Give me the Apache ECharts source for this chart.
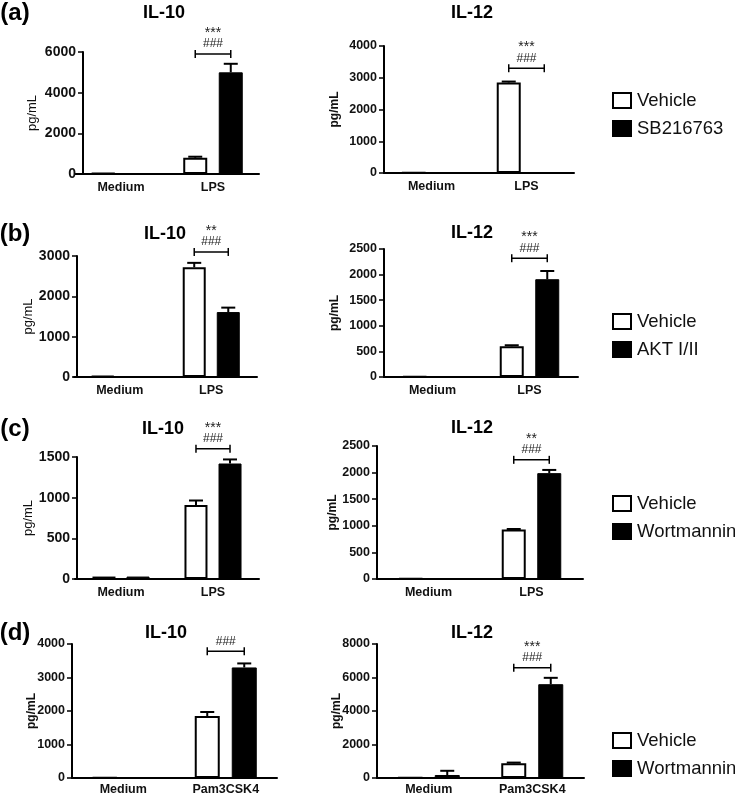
<!DOCTYPE html>
<html><head><meta charset="utf-8">
<script src="https://cdn.jsdelivr.net/npm/echarts@6/dist/echarts.min.js"></script>
<style>html,body{margin:0;padding:0;background:#fff}#c{width:735px;height:796px}</style>
</head><body><div id="c"></div>
<script>
// ---------------- data ----------------
const rowLabels = ['(a)', '(b)', '(c)', '(d)'];
const panelTitles = ['IL-10', 'IL-12', 'IL-10', 'IL-12', 'IL-10', 'IL-12', 'IL-10', 'IL-12'];
const catsLPS = ['Medium', 'LPS'];
const catsPam = ['Medium', 'Pam3CSK4'];
const panelCats = [catsLPS, catsLPS, catsLPS, catsLPS, catsLPS, catsLPS, catsPam, catsPam];
const vehicleName = 'Vehicle';
const drugNames = ['SB216763', 'AKT I/II', 'Wortmannin', 'Wortmannin'];
const yAxisName = 'pg/mL';
const yMax  = [6000, 4000, 3000, 2500, 1500, 2500, 4000, 8000];
const yStep = [2000, 1000, 1000, 500, 500, 500, 1000, 2000];
const vehicleMean = [[40, 800], [10, 2850], [20, 2720], [10, 600], [30, 910], [10, 930], [20, 1850], [30, 880]];
const vehicleSem  = [[0, 50], [0, 30], [0, 110], [0, 20], [0, 55], [0, 10], [0, 120], [0, 40]];
const drugMean = [[40, 5000], [10, 10], [20, 1610], [10, 1910], [30, 1420], [10, 1990], [20, 3300], [180, 5600]];
const drugSem  = [[0, 420], [0, 0], [0, 110], [0, 160], [0, 50], [0, 60], [0, 120], [250, 380]];
const bracketLevel = [5900, 3300, 3100, 2320, 1600, 2240, 3780, 6580];
const starMarks = ['***', '***', '**', '***', '***', '**', '', '***'];
const hashMarks = ['###', '###', '###', '###', '###', '###', '###', '###'];

// ---------------- layout ----------------
const FONT = '"Liberation Sans", Arial, Helvetica, sans-serif';
const grids = [
  {left: 75, top: 52, width: 184, height: 122, off: -8, nameGap: 44, bold: false, bw: 24, tick: 14},
  {left: 384, top: 46, width: 190, height: 127, off: 0, nameGap: 43, bold: true, bw: 24, tick: 12.5},
  {left: 74, top: 256, width: 183, height: 121, off: -3, nameGap: 42, bold: false, bw: 23, tick: 14},
  {left: 384, top: 249, width: 194, height: 128, off: 0, nameGap: 43, bold: true, bw: 24, tick: 12.5},
  {left: 75, top: 457, width: 184, height: 122, off: -2, nameGap: 42, bold: false, bw: 23, tick: 14},
  {left: 377, top: 446, width: 206, height: 133, off: 0, nameGap: 38, bold: true, bw: 24, tick: 12.5},
  {left: 72, top: 644, width: 205, height: 135, off: 0, nameGap: 34, bold: true, bw: 25, tick: 12.5},
  {left: 377, top: 644, width: 207, height: 135, off: 0, nameGap: 34, bold: true, bw: 25, tick: 12.5}
];
const GAP = 0.48;
const titlePos = [[164, 13], [472, 13], [165, 234], [472, 233], [163, 429], [472, 428], [166, 633], [472, 633]];
const rowLabelPos = [[15, 13], [15, 234], [15, 429], [15, 633]];
const legendTop = [86, 307, 489, 726];
const catMargin = [7, 7, 7, 7, 7, 7, 5, 5];

function makeErr(bw) {
  const off = bw * (1 + GAP) / 2;
  return function (params, api) {
    const c = api.value(0), v = api.value(1), e = api.value(2), side = api.value(3);
    if (!e) return;
    const base = api.coord([c, v]);
    const top = api.coord([c, v + e]);
    const x = base[0] + (side ? off : -off);
    const cap = 14;
    return {
      type: 'group',
      children: [
        {type: 'line', shape: {x1: x, y1: base[1], x2: x, y2: top[1]}, style: {stroke: '#000', lineWidth: 2}},
        {type: 'line', shape: {x1: x - cap / 2, y1: top[1], x2: x + cap / 2, y2: top[1]}, style: {stroke: '#000', lineWidth: 2}}
      ]
    };
  };
}
function makeBracket(bw, i) {
  const off = bw * (1 + GAP) / 2;
  return function (params, api) {
    const p = api.coord([api.value(0), api.value(1)]);
    const x1 = p[0] - off, x2 = p[0] + off, y = p[1];
    const ch = [
      {type: 'line', shape: {x1: x1, y1: y, x2: x2, y2: y}, style: {stroke: '#000', lineWidth: 1.5}},
      {type: 'line', shape: {x1: x1, y1: y - 4, x2: x1, y2: y + 4}, style: {stroke: '#000', lineWidth: 1.5}},
      {type: 'line', shape: {x1: x2, y1: y - 4, x2: x2, y2: y + 4}, style: {stroke: '#000', lineWidth: 1.5}},
      {type: 'text', style: {text: hashMarks[i], x: p[0], y: y - 10, align: 'center', verticalAlign: 'middle', font: '12px ' + FONT, fill: '#222'}}
    ];
    if (starMarks[i]) ch.push({type: 'text', style: {text: starMarks[i], x: p[0], y: y - 21, align: 'center', verticalAlign: 'middle', font: '14px ' + FONT, fill: '#222'}});
    return {type: 'group', children: ch};
  };
}

const option = {
  backgroundColor: '#fff',
  animation: false,
  grid: grids.map(g => ({left: g.left, top: g.top, width: g.width, height: g.height, containLabel: false})),
  xAxis: grids.map((g, i) => ({
    type: 'category', gridIndex: i, data: panelCats[i],
    axisLine: {lineStyle: {color: '#000', width: 2}},
    axisTick: {show: false},
    axisLabel: {fontFamily: FONT, fontWeight: 'bold', fontSize: 12.5, color: '#111', margin: catMargin[i]}
  })),
  yAxis: grids.map((g, i) => ({
    type: 'value', gridIndex: i, min: 0, max: yMax[i], interval: yStep[i], offset: g.off,
    name: yAxisName, nameLocation: 'middle', nameGap: g.nameGap, nameRotate: 90, nameMoveOverlap: false,
    nameTextStyle: {fontFamily: FONT, fontSize: g.bold ? 12 : 13, fontWeight: g.bold ? 'bold' : 'normal', color: '#111'},
    axisLine: {show: true, lineStyle: {color: '#000', width: 2}},
    axisTick: {show: true, length: 5, lineStyle: {color: '#000', width: 1.5}},
    splitLine: {show: false},
    axisLabel: {fontFamily: FONT, fontWeight: 'bold', fontSize: g.tick, color: '#111', margin: 7,
      formatter: v => String(v)}
  })),
  legend: legendTop.map((t, r) => ({
    left: 607, top: t, orient: 'vertical', itemWidth: 18, itemHeight: 15, itemGap: 9,
    selectedMode: false, icon: 'rect',
    data: [vehicleName, drugNames[r]],
    textStyle: {fontFamily: FONT, fontSize: 18.5, color: '#111', padding: [0, 0, 0, 1]}
  })),
  graphic: [
    ...panelTitles.map((t, i) => ({type: 'text', x: titlePos[i][0], y: titlePos[i][1],
      style: {text: t, align: 'center', verticalAlign: 'middle', font: 'bold 18px ' + FONT, fill: '#000'}})),
    ...rowLabels.map((t, r) => ({type: 'text', x: rowLabelPos[r][0], y: rowLabelPos[r][1],
      style: {text: t, align: 'center', verticalAlign: 'middle', font: 'bold 24px ' + FONT, fill: '#000'}}))
  ],
  series: []
};

grids.forEach((g, i) => {
  const r = Math.floor(i / 2);
  option.series.push({
    type: 'bar', name: vehicleName, xAxisIndex: i, yAxisIndex: i, data: vehicleMean[i],
    barWidth: g.bw, barGap: (GAP * 100) + '%',
    itemStyle: {color: '#fff', borderColor: '#000', borderWidth: 2}
  });
  option.series.push({
    type: 'bar', name: drugNames[r], xAxisIndex: i, yAxisIndex: i, data: drugMean[i],
    barWidth: g.bw, barGap: (GAP * 100) + '%',
    itemStyle: {color: '#000', borderColor: '#000', borderWidth: 1}
  });
  const errData = [];
  for (let c = 0; c < 2; c++) {
    errData.push([c, vehicleMean[i][c], vehicleSem[i][c], 0]);
    errData.push([c, drugMean[i][c], drugSem[i][c], 1]);
  }
  option.series.push({
    type: 'custom', name: 'err' + i, xAxisIndex: i, yAxisIndex: i, z: 5,
    renderItem: makeErr(g.bw), data: errData, silent: true
  });
  option.series.push({
    type: 'custom', name: 'sig' + i, xAxisIndex: i, yAxisIndex: i, z: 5, clip: false,
    renderItem: makeBracket(g.bw, i), data: [[1, bracketLevel[i]]], silent: true
  });
});

const chart = echarts.init(document.getElementById('c'), null, {renderer: 'canvas'});
chart.setOption(option);
</script></body></html>
